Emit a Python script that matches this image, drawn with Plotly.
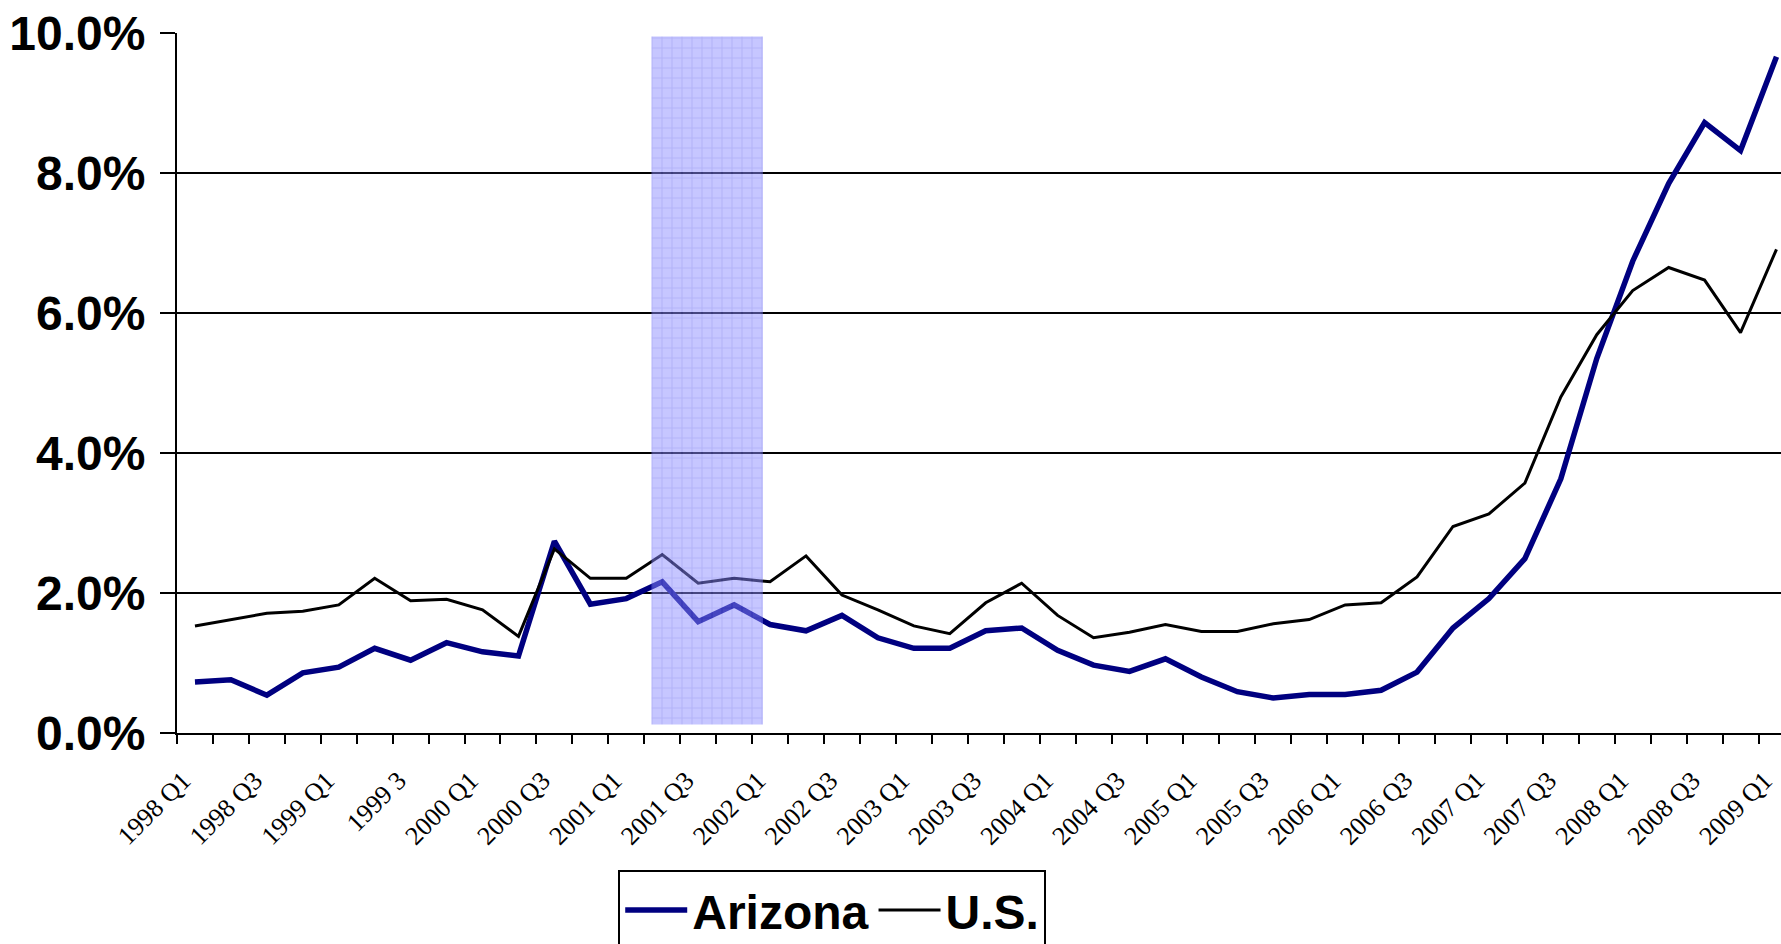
import plotly.graph_objects as go

quarters = [f"{y} Q{q}" for y in range(1998, 2010) for q in range(1, 5)][:45]

arizona = [0.73, 0.76, 0.54, 0.86, 0.94, 1.21, 1.04, 1.29, 1.16, 1.10,
           2.74, 1.84, 1.92, 2.16, 1.59, 1.83, 1.55, 1.46, 1.68, 1.36,
           1.21, 1.21, 1.46, 1.50, 1.18, 0.97, 0.88, 1.06, 0.80, 0.59,
           0.50, 0.55, 0.55, 0.61, 0.87, 1.50, 1.92, 2.49, 3.63, 5.35,
           6.74, 7.85, 8.72, 8.32, 9.66]

us = [1.53, 1.62, 1.71, 1.74, 1.83, 2.21, 1.89, 1.91, 1.76, 1.38,
      2.63, 2.21, 2.21, 2.55, 2.14, 2.21, 2.16, 2.53, 1.97, 1.76,
      1.53, 1.42, 1.86, 2.14, 1.68, 1.36, 1.44, 1.55, 1.45, 1.45,
      1.56, 1.62, 1.83, 1.86, 2.23, 2.95, 3.13, 3.57, 4.80, 5.69,
      6.32, 6.65, 6.47, 5.72, 6.91]

tick_labels = ["1998 Q1", "1998 Q3", "1999 Q1", "1999 3", "2000 Q1", "2000 Q3",
               "2001 Q1", "2001 Q3", "2002 Q1", "2002 Q3", "2003 Q1", "2003 Q3",
               "2004 Q1", "2004 Q3", "2005 Q1", "2005 Q3", "2006 Q1", "2006 Q3",
               "2007 Q1", "2007 Q3", "2008 Q1", "2008 Q3", "2009 Q1"]

# recession band (in quarter-index units and percent)
recession_start = 12.7
recession_end = 15.8
recession_low = 0.12
recession_high = 9.95

y_ticks = [0, 2, 4, 6, 8, 10]

idx = list(range(len(quarters)))
label_pos = [i * 2 for i in range(len(tick_labels))]

fig = go.Figure()
fig.add_trace(go.Scatter(x=idx, y=arizona, name="Arizona", mode="lines",
                         line=dict(color="#000080", width=5.5), customdata=quarters,
                         hovertemplate="%{customdata}: %{y:.1f}%<extra>Arizona</extra>"))
fig.add_trace(go.Scatter(x=idx, y=us, name="U.S.", mode="lines",
                         line=dict(color="#000000", width=3), customdata=quarters,
                         hovertemplate="%{customdata}: %{y:.1f}%<extra>U.S.</extra>"))
fig.add_trace(go.Scatter(
    x=[recession_start, recession_end, recession_end, recession_start, recession_start],
    y=[recession_low, recession_low, recession_high, recession_high, recession_low],
    mode="lines", fill="toself", line=dict(width=0), showlegend=False, hoverinfo="skip",
    fillcolor="rgb(128,128,255)", opacity=0.5,
    fillpattern=dict(shape="+", bgcolor="rgb(140,140,255)", fgcolor="rgb(70,70,225)",
                     size=10, solidity=0.22)))

W, H = 1781, 944
left, top, bottom = 176.7, 32.7, 944 - 732.7
px_per = 35.95
x_end = -0.5 + (W - left) / px_per

fig.update_layout(
    width=W, height=H,
    margin=dict(l=left, r=0, t=top, b=bottom, autoexpand=False),
    paper_bgcolor="white", plot_bgcolor="white",
    showlegend=True,
    legend=dict(orientation="h", x=(618 - left) / (W - left), y=(732.7 - 870) / 700,
                xanchor="left", yanchor="top", bordercolor="black", borderwidth=2,
                bgcolor="white", itemwidth=62,
                font=dict(family="Liberation Sans", size=48, weight="bold", color="black")),
    xaxis=dict(range=[-0.5, x_end], tickmode="array", tickvals=label_pos, ticktext=tick_labels,
               tickangle=-45, ticks="", showgrid=False, zeroline=False,
               showline=True, linecolor="black", linewidth=2,
               tickfont=dict(family="Liberation Serif", size=26, color="black"),
               ticklabelstandoff=20, ticklabelshift=-12, ticklabeloverflow="allow",
               minor=dict(tick0=-0.5, dtick=1, ticks="outside", ticklen=9, tickwidth=2,
                          tickcolor="black", showgrid=False)),
    yaxis=dict(range=[0, 10], tickmode="array", tickvals=y_ticks,
               ticktext=[f"{v:.1f}%" for v in y_ticks],
               showgrid=True, gridcolor="black", gridwidth=2, zeroline=False,
               showline=True, linecolor="black", linewidth=2,
               ticks="outside", ticklen=15, tickwidth=2, tickcolor="black",
               ticklabelstandoff=5,
               tickfont=dict(family="Liberation Sans", size=48, weight="bold", color="black")),
)

fig.write_html("out.html", config={"displayModeBar": False},
               post_script="document.body.style.margin='0';")
